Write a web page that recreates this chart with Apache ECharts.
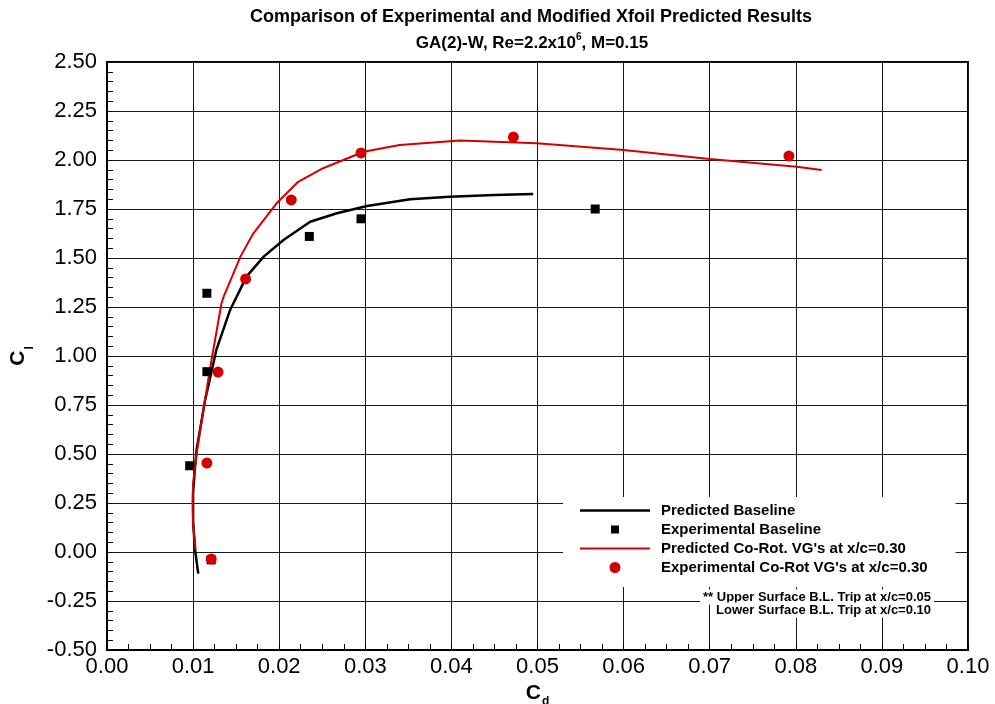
<!DOCTYPE html>
<html><head><meta charset="utf-8">
<script src="https://cdn.jsdelivr.net/npm/echarts@6/dist/echarts.min.js"></script>
<style>html,body{margin:0;padding:0;background:#fff}#c{width:995px;height:704px}</style>
</head><body><div id="c"></div>
<script>
var FONT = 'Liberation Sans, Arial, Helvetica, sans-serif';

var xTicks = [0.00,0.01,0.02,0.03,0.04,0.05,0.06,0.07,0.08,0.09,0.10];
var yTicks = [-0.50,-0.25,0.00,0.25,0.50,0.75,1.00,1.25,1.50,1.75,2.00,2.25,2.50];

var seriesNames = ["Predicted Baseline","Experimental Baseline","Predicted Co-Rot. VG's at x/c=0.30","Experimental Co-Rot VG's at x/c=0.30"];

var predBaseCd = [0.0106,0.0102,0.0100,0.0100,0.0102,0.0104,0.0114,0.0127,0.0143,0.0162,0.0182,0.0205,0.0236,0.0267,0.0302,0.0352,0.0398,0.0450,0.0495];
var predBaseCl = [-0.11,0.02,0.16,0.30,0.42,0.52,0.776,1.031,1.235,1.405,1.507,1.592,1.685,1.728,1.765,1.800,1.813,1.822,1.827];

var expBaseCd = [0.0096,0.0121,0.0116,0.0116,0.0235,0.0295,0.0567];
var expBaseCl = [0.44,-0.04,0.92,1.32,1.61,1.70,1.75];

var predVgCd = [0.0103,0.0100,0.00995,0.0100,0.0104,0.0110,0.0120,0.0133,0.01355,0.0155,0.0170,0.0197,0.0222,0.0251,0.0298,0.0340,0.0410,0.0499,0.0600,0.0700,0.0801,0.0830];
var predVgCl = [0.01,0.14,0.25,0.35,0.50,0.67,0.945,1.269,1.303,1.507,1.626,1.779,1.889,1.958,2.042,2.077,2.099,2.085,2.051,2.005,1.966,1.949];

var expVgCd = [0.0121,0.0116,0.0129,0.0161,0.0214,0.0295,0.0472,0.0792];
var expVgCl = [-0.036,0.454,0.918,1.393,1.796,2.036,2.117,2.020];

function zip(a,b){ return a.map(function(v,i){ return [v,b[i]]; }); }

var yTitleRich = {
  c:{fontSize:21,fontWeight:'bold',color:'#000',fontFamily:FONT,lineHeight:26,verticalAlign:'bottom'},
  s:{fontSize:12,fontWeight:'bold',color:'#000',fontFamily:FONT,lineHeight:26,verticalAlign:'bottom',padding:[0,0,-7,1]}
};
var xTitleRich = {
  c:{fontSize:21,fontWeight:'bold',color:'#000',fontFamily:FONT,lineHeight:22,verticalAlign:'bottom'},
  s:{fontSize:12,fontWeight:'bold',color:'#000',fontFamily:FONT,lineHeight:22,verticalAlign:'bottom',padding:[0,0,-4,1]}
};

var chart = echarts.init(document.getElementById('c'), null, {renderer:'canvas'});
var option = {
  animation:false,
  backgroundColor:'#fff',
  textStyle:{fontFamily:FONT},
  grid:{left:107,right:27,top:62,bottom:54,show:true,borderColor:'#000',borderWidth:2,backgroundColor:'transparent',containLabel:false,outerBoundsMode:'none'},
  xAxis:{
    type:'value', min:xTicks[0], max:xTicks[xTicks.length-1], interval:0.01,
    name:'{c|C}{s|d}', nameLocation:'middle', nameGap:29,
    nameTextStyle:{rich:xTitleRich},
    axisLine:{show:true,onZero:false,lineStyle:{color:'#000',width:2}},
    axisTick:{show:true,inside:true,length:6,lineStyle:{color:'#000'}},
    minorTick:{show:true,splitNumber:4,length:6,lineStyle:{color:'#000',width:1}},
    splitLine:{show:true,lineStyle:{color:'#1a1a1a',width:1}},
    axisLabel:{fontSize:22,color:'#000',fontFamily:FONT,margin:6,formatter:function(v){return v.toFixed(2);}}
  },
  yAxis:{
    type:'value', min:yTicks[0], max:yTicks[yTicks.length-1], interval:0.25,
    name:'{c|C}{s|l}', nameLocation:'middle', nameGap:78, nameRotate:90,
    nameTextStyle:{rich:yTitleRich},
    axisLine:{show:true,onZero:false,lineStyle:{color:'#000',width:2}},
    axisTick:{show:true,inside:true,length:6,lineStyle:{color:'#000'}},
    minorTick:{show:true,splitNumber:5,length:6,lineStyle:{color:'#000',width:1}},
    splitLine:{show:true,lineStyle:{color:'#1a1a1a',width:1}},
    axisLabel:{fontSize:22,color:'#000',fontFamily:FONT,margin:10,formatter:function(v){return v.toFixed(2);}}
  },
  legend:{
    orient:'vertical', left:563, top:497,
    backgroundColor:'#fff', padding:[6,28,12,17], itemGap:4,
    itemWidth:70, itemHeight:14, z:10,
    textStyle:{fontSize:15,fontWeight:'bold',color:'#000',fontFamily:FONT,lineHeight:14,padding:[0,0,0,6]},
    data:[
      {name:seriesNames[0],icon:'path://M0,0L70,0L70,2.5L0,2.5Z',itemStyle:{color:'#000'}},
      {name:seriesNames[1],icon:'path://M0,0M70,14M31,3L39,3L39,11L31,11Z',itemStyle:{color:'#000'}},
      {name:seriesNames[2],icon:'path://M0,0L70,0L70,2.2L0,2.2Z',itemStyle:{color:'#d40000'}},
      {name:seriesNames[3],icon:'path://M0,0M70,14M35,1.5A5.5,5.5,0,1,1,34.99,1.5Z',itemStyle:{color:'#d40000'}}
    ]
  },
  graphic:[
    {type:'text',x:531,y:17,z:20,style:{text:'Comparison of Experimental and Modified Xfoil Predicted Results',fontSize:18,fontWeight:'bold',fontFamily:FONT,fill:'#000',align:'center',verticalAlign:'middle'}},
    {type:'text',x:532,y:42,z:20,style:{text:'{a|GA(2)-W, Re=2.2x10}{b|6}{a|, M=0.15}',align:'center',verticalAlign:'middle',
      rich:{a:{fontSize:17,fontWeight:'bold',fontFamily:FONT,fill:'#000',lineHeight:20,verticalAlign:'bottom'},b:{fontSize:10,fontWeight:'bold',fontFamily:FONT,fill:'#000',lineHeight:20,verticalAlign:'top',padding:[0,0,8,0]}}}},
    {type:'text',x:934,y:597,z:20,style:{text:'** Upper Surface B.L. Trip at x/c=0.05',fontSize:13,fontWeight:'bold',fontFamily:FONT,fill:'#000',align:'right',verticalAlign:'middle',backgroundColor:'#fff',padding:[1,3,1,3]}},
    {type:'text',x:934,y:610,z:20,style:{text:'Lower Surface B.L. Trip at x/c=0.10',fontSize:13,fontWeight:'bold',fontFamily:FONT,fill:'#000',align:'right',verticalAlign:'middle',backgroundColor:'#fff',padding:[1,3,1,3]}}
  ],
  series:[
    {name:seriesNames[0],type:'line',data:zip(predBaseCd,predBaseCl),showSymbol:false,symbol:'none',smooth:false,lineStyle:{color:'#000',width:2.5},itemStyle:{color:'#000'},z:2},
    {name:seriesNames[1],type:'scatter',data:zip(expBaseCd,expBaseCl),symbol:'rect',symbolSize:9,itemStyle:{color:'#000',opacity:1},z:4},
    {name:seriesNames[2],type:'line',data:zip(predVgCd,predVgCl),showSymbol:false,symbol:'none',smooth:false,lineStyle:{color:'#d40000',width:2},itemStyle:{color:'#d40000'},z:3},
    {name:seriesNames[3],type:'scatter',data:zip(expVgCd,expVgCl),symbol:'circle',symbolSize:11,itemStyle:{color:'#d40000',opacity:1},z:5}
  ]
};
chart.setOption(option);
</script>
</body></html>
